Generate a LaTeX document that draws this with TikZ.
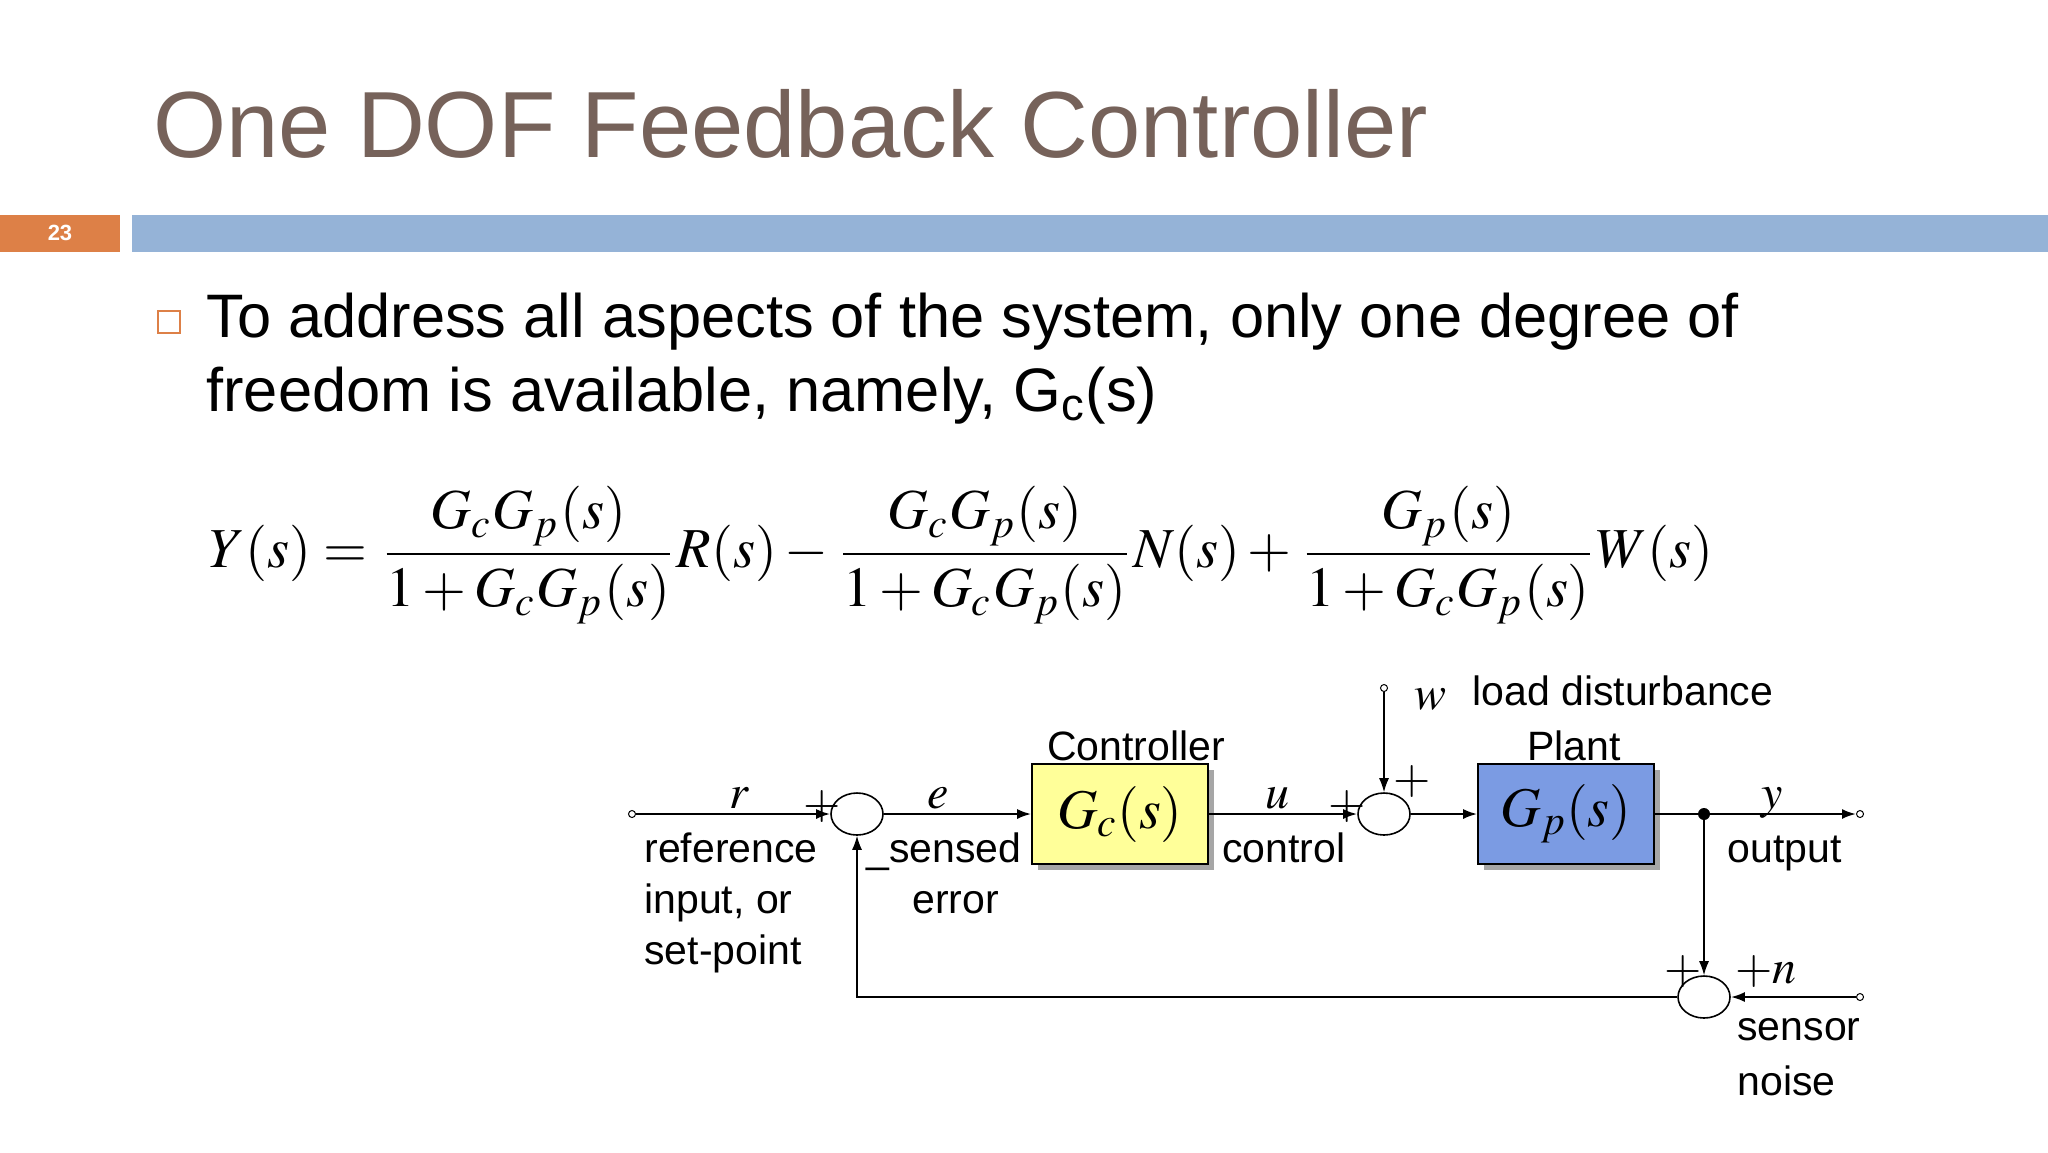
\documentclass[tikz,border=0pt]{standalone}
\usepackage{mathptmx}
\usepackage{fontspec}
\setmainfont{Liberation Sans}
\usetikzlibrary{shapes.geometric,arrows.meta,shadows}
\definecolor{titlec}{HTML}{76625A}
\definecolor{barblue}{HTML}{95B3D7}
\definecolor{barorange}{HTML}{DD8047}
\definecolor{ctrl}{HTML}{FFFF99}
\definecolor{plant}{HTML}{7B9BE3}
\begin{document}
\begin{tikzpicture}[x=0.5pt,y=-0.5pt,
  lbl/.style={font=\fontsize{20.5}{24}\selectfont,inner sep=0pt,anchor=base west},
  var/.style={font=\fontsize{24}{24}\selectfont,inner sep=0pt,anchor=base},
  sum/.style={ellipse,draw,line width=0.8pt,minimum width=26pt,minimum height=21pt,fill=white,inner sep=0pt},
  blk/.style={draw,line width=0.8pt,minimum width=88pt,minimum height=50pt,inner sep=0pt,font=\fontsize{28}{28}\selectfont},
  shad/.style={drop shadow={shadow xshift=3pt,shadow yshift=-3pt,fill=gray!70,opacity=1}},
  sig/.style={line width=1.1pt,-{Latex[length=7pt,width=5pt]}},
  fb/.style={line width=0.7pt,-{Latex[length=7pt,width=5pt]}},
  term/.style={circle,draw,fill=white,inner sep=0pt,minimum size=3.5pt,line width=0.5pt}]
\useasboundingbox (0,0) rectangle (2048,1152);
\fill[white] (0,0) rectangle (2048,1152);
\node[anchor=base west,inner sep=0pt,text=titlec,font=\fontsize{47}{47}\selectfont] (title) at (153,157) {One DOF Feedback Controller};
\fill[barorange] (0,215) rectangle (120,252);
\node[text=white,font=\bfseries\fontsize{11}{11}\selectfont] (num) at (60,233) {23};
\fill[barblue] (132,215) rectangle (2048,252);
\draw[barorange,line width=1pt] (158,311) rectangle (180,333);
\node[anchor=base west,inner sep=0pt,font=\fontsize{30.7}{32}\selectfont] (l1) at (206,337) {To address all aspects of the system, only one degree of};
\node[anchor=base west,inner sep=0pt,font=\fontsize{30.7}{32}\selectfont] (l2) at (206,411) {freedom is available, namely, G\textsubscript{c}(s)};
\node[anchor=west,inner sep=0pt] (eq) at (209,555) {\resizebox{752pt}{!}{$\displaystyle Y(s)=\frac{G_cG_p(s)}{1+G_cG_p(s)}R(s)-\frac{G_cG_p(s)}{1+G_cG_p(s)}N(s)+\frac{G_p(s)}{1+G_cG_p(s)}W(s)$}};
% diagram
\node[term] (r0) at (632,814) {};
\node[sum] (s1) at (857,814) {};
\node[blk,fill=ctrl,shad] (gc) at (1120,814) {$G_c(s)$};
\node[sum] (s2) at (1384,814) {};
\node[blk,fill=plant,shad] (gp) at (1566,814) {$G_p(s)$};
\fill (1704,814) circle (3pt) coordinate (br);
\node[term] (y0) at (1860,814) {};
\node[term] (w0) at (1384,688) {};
\node[sum] (s3) at (1704,997) {};
\node[term] (n0) at (1860,997) {};
\coordinate (fc) at (857,997);
\draw[sig] (r0) -- (s1.west);
\draw[sig] (s1.east) -- (gc.west);
\draw[sig] (gc.east) -- (s2.west);
\draw[sig] (s2.east) -- (gp.west);
\draw[sig] (gp.east) -- (y0.west);
\draw[fb] (w0) -- (s2.north);
\draw[fb] (br) -- (s3.north);
\draw[sig] (n0) -- (s3.east);
\draw[fb] (s3.west) -- (fc) -- (s1.south);
% labels
\node[var] (tr) at (739,808) {$r$};
\node[var] (pl1) at (822,818) {$+$};
\node[var] (te) at (938,808) {$e$};
\node[var] (tu) at (1277,808) {$u$};
\node[var] (pl2) at (1347,818) {$+$};
\node[var] (pl3) at (1412,793) {$+$};
\node[var] (tw) at (1430,709) {$w$};
\node[var] (ty) at (1772,808) {$y$};
\node[var] (pl4) at (1683,983) {$+$};
\node[var,anchor=base west] (tn) at (1735,983) {$+n$};
\node[lbl] (t1) at (644,862) {reference};
\node[lbl] (t2) at (644,913) {input, or};
\node[lbl] (t3) at (644,964) {set-point};
\node[lbl] (t4) at (866,862) {\_sensed};
\node[lbl] (t5) at (912,913) {error};
\node[lbl,anchor=base] (t6) at (1136,760) {Controller};
\node[lbl] (t7) at (1222,862) {control};
\node[lbl] (t8) at (1472,705) {load disturbance};
\node[lbl,anchor=base] (t9) at (1574,760) {Plant};
\node[lbl] (t10) at (1727,862) {output};
\node[lbl] (t11) at (1737,1040) {sensor};
\node[lbl] (t12) at (1737,1095) {noise};
\end{tikzpicture}
\end{document}
